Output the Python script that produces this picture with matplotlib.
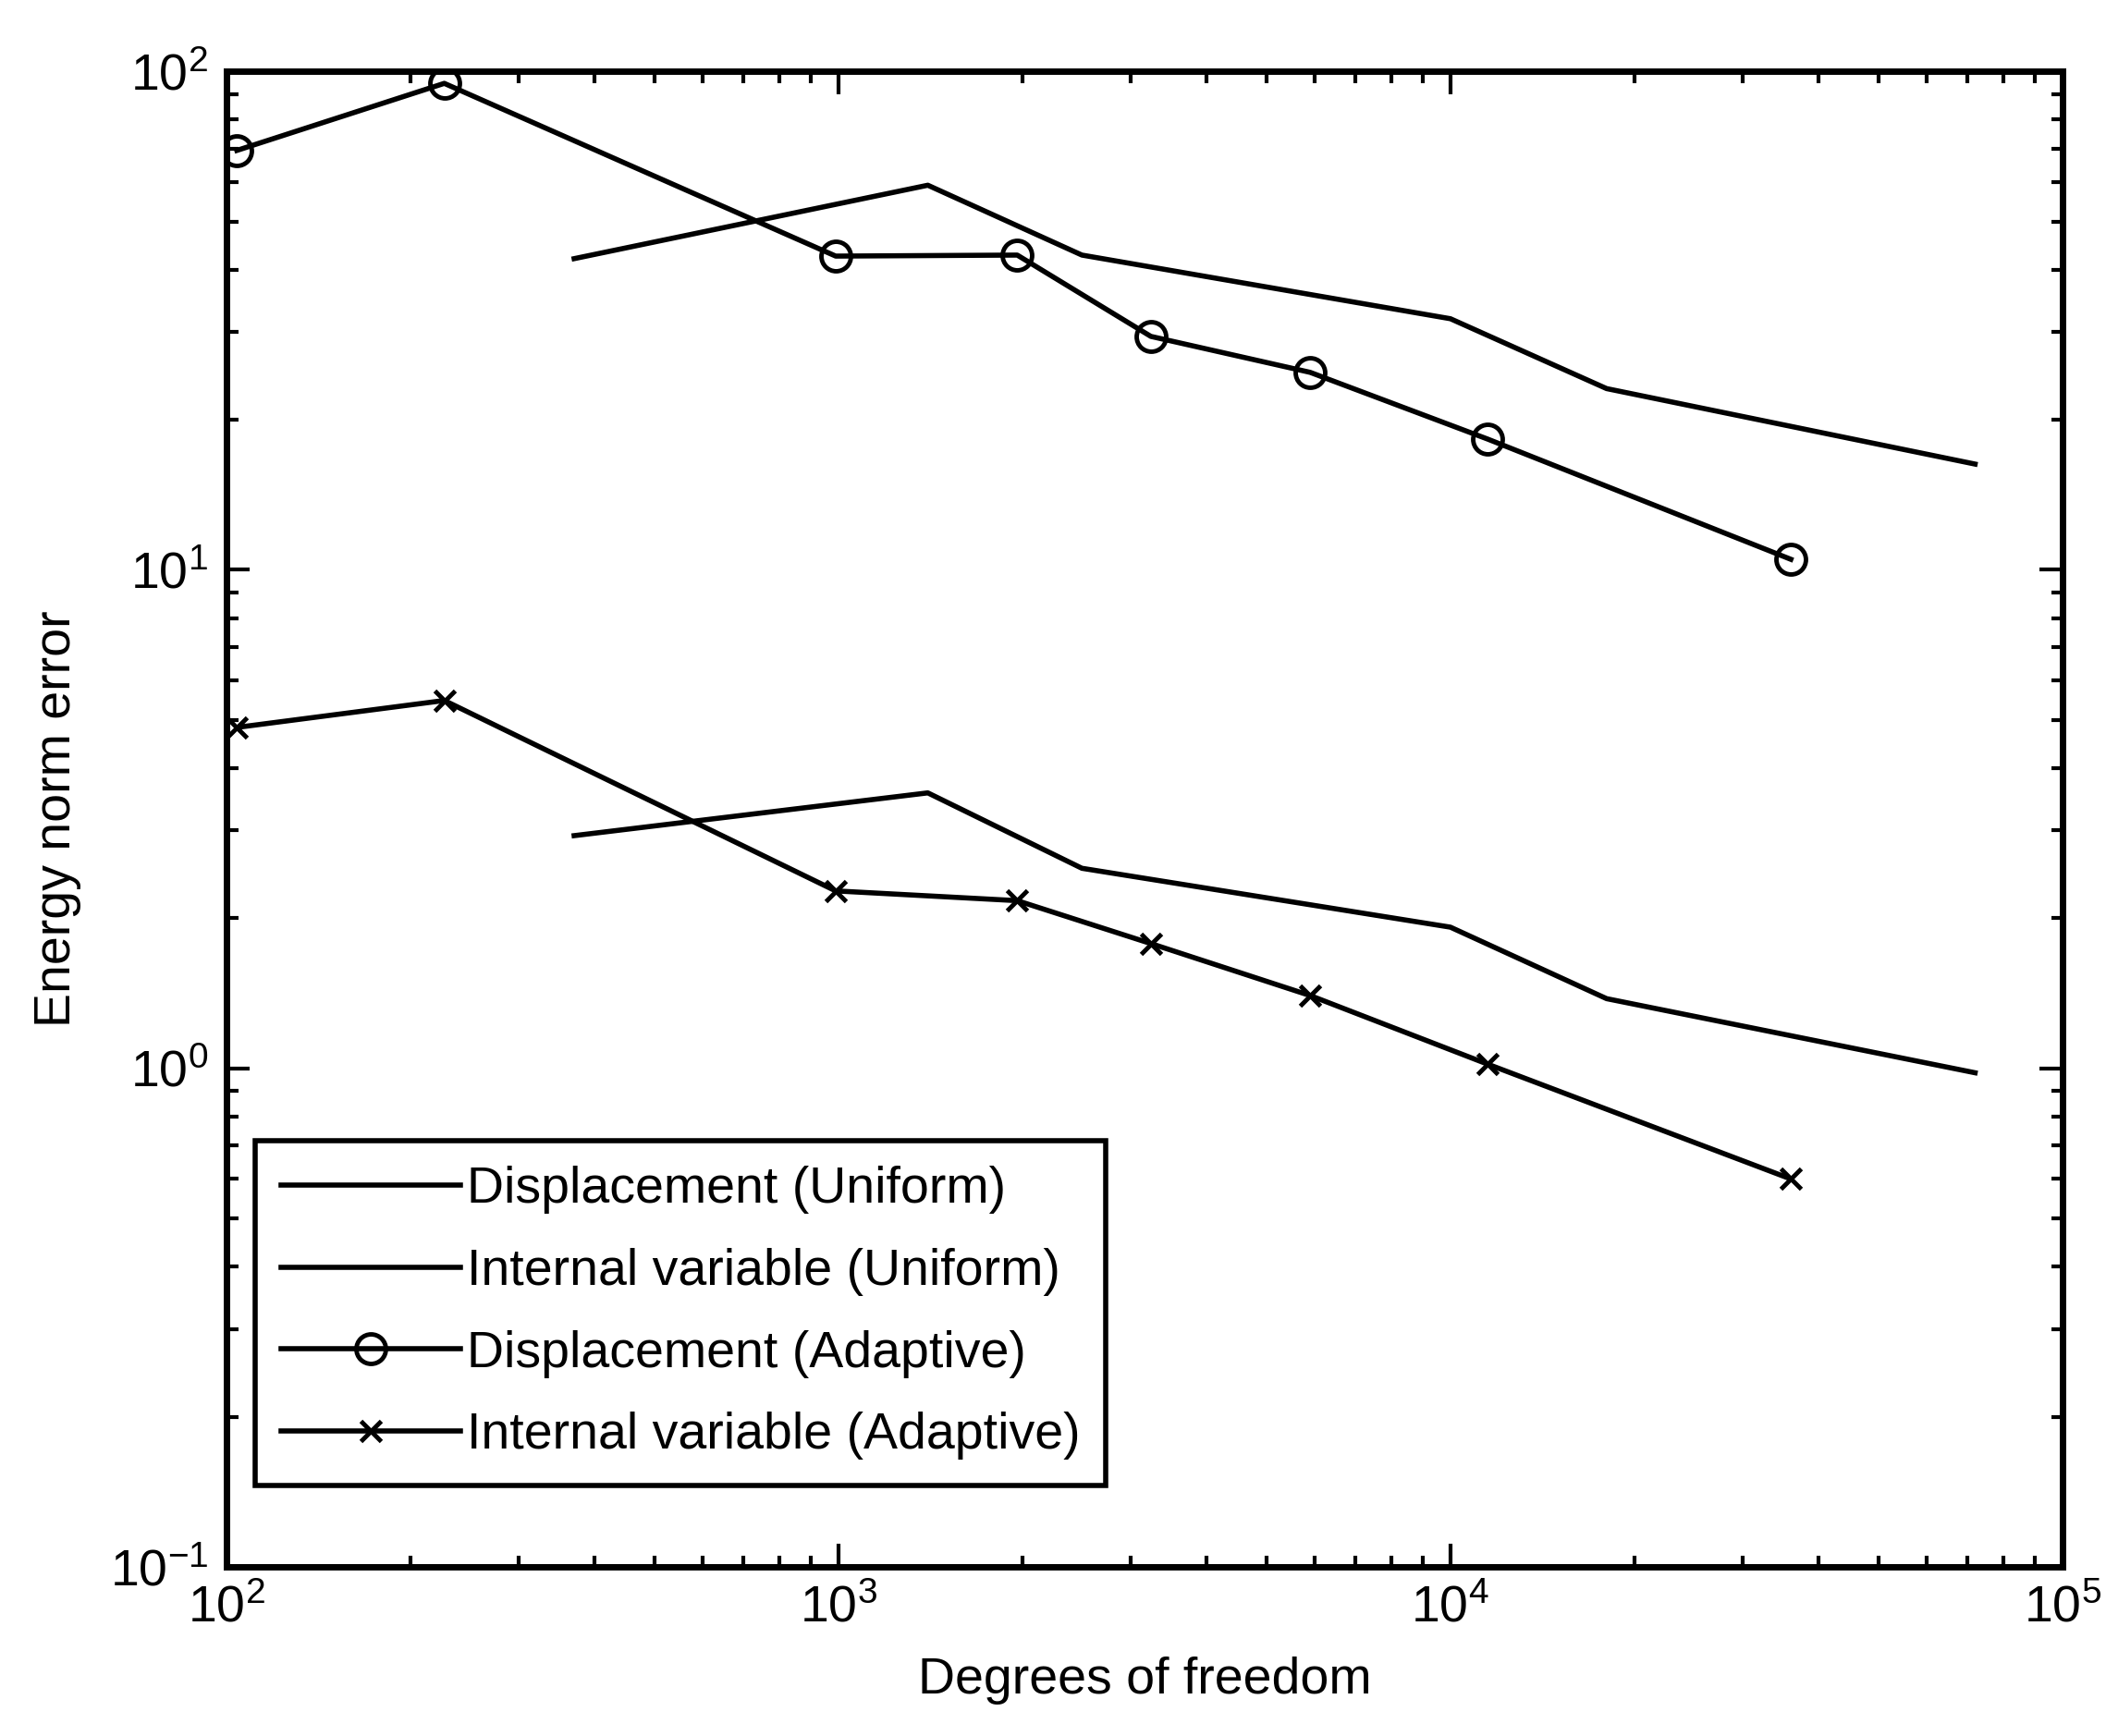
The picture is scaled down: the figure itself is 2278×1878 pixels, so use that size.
import matplotlib
matplotlib.use("Agg")
import matplotlib.pyplot as plt
from matplotlib.ticker import LogLocator, NullFormatter

plt.rcParams["font.family"] = ["Liberation Sans", "DejaVu Sans"]
plt.rcParams["mathtext.fontset"] = "custom"
plt.rcParams["mathtext.rm"] = "Liberation Sans"
plt.rcParams["mathtext.it"] = "Liberation Sans:italic"

# degrees of freedom per refinement step
dof_adaptive = [104, 227, 990, 1960, 3240, 5900, 11500, 36000]
dof_uniform = [370, 1400, 2500, 10000, 18000, 72000]

# energy norm error
disp_adaptive = [69.4, 94.6, 42.6, 42.8, 29.4, 24.9, 18.3, 10.5]
ivar_adaptive = [4.83, 5.47, 2.27, 2.17, 1.78, 1.40, 1.02, 0.60]
disp_uniform = [42.1, 59.1, 42.8, 31.9, 23.1, 16.3]
ivar_uniform = [2.93, 3.57, 2.52, 1.92, 1.38, 0.98]

labels = [
    "Displacement (Uniform)",
    "Internal variable (Uniform)",
    "Displacement (Adaptive)",
    "Internal variable (Adaptive)",
]

fs = 40
lw = 4

fig = plt.figure(figsize=(22.78, 18.78), dpi=100)
ax = fig.add_axes([0.1075, 0.0974, 0.8718, 0.8615])

ax.loglog(dof_uniform, disp_uniform, "-", color="k", lw=lw, label=labels[0])
ax.loglog(dof_uniform, ivar_uniform, "-", color="k", lw=lw, label=labels[1])
ax.loglog(dof_adaptive, disp_adaptive, "-o", color="k", lw=lw, ms=23,
          mfc="none", mew=3.5, label=labels[2])
ax.loglog(dof_adaptive, ivar_adaptive, "-x", color="k", lw=lw, ms=16,
          mew=3.5, label=labels[3])

ax.set_xlim(1e2, 1e5)
ax.set_ylim(1e-1, 1e2)

for axis in (ax.xaxis, ax.yaxis):
    axis.set_major_locator(LogLocator(base=10, numticks=10))
    axis.set_minor_locator(LogLocator(base=10, subs=range(2, 10), numticks=10))
    axis.set_minor_formatter(NullFormatter())

ax.tick_params(which="both", direction="in", top=True, right=True,
               labelsize=fs, color="k")
ax.tick_params(which="major", length=18, width=3, pad=14)
ax.tick_params(which="minor", length=9, width=3)
for sp in ax.spines.values():
    sp.set_linewidth(5)

ax.set_xlabel("Degrees of freedom", fontsize=fs, labelpad=18)
ax.set_ylabel("Energy norm error", fontsize=fs, labelpad=22)

leg = ax.legend(loc="lower left", bbox_to_anchor=(0.0156, 0.0544),
                borderaxespad=0, fontsize=fs, handlelength=3.5,
                handletextpad=0.12, labelspacing=0.66, borderpad=0.5,
                fancybox=False, framealpha=1, edgecolor="k")
leg.get_frame().set_linewidth(4)

fig.savefig("out.png", dpi=100, facecolor="white")
